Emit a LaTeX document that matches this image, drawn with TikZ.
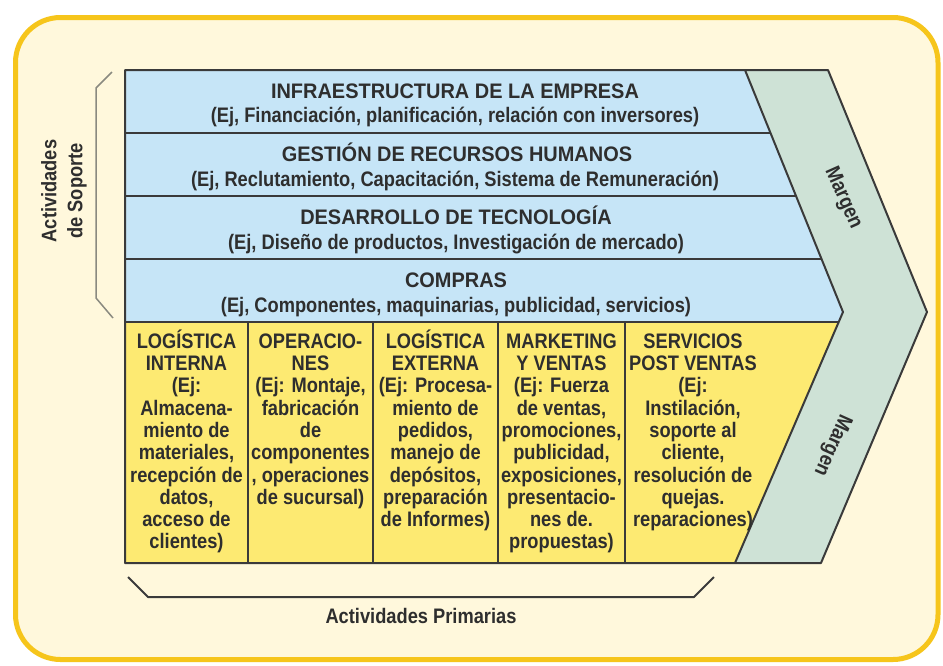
\documentclass[tikz,border=0pt]{standalone}
\usepackage{fontspec}
\setmainfont{Liberation Sans}[FakeStretch=0.87]
\newfontfamily\titlefam{Liberation Sans}[FakeStretch=0.95]
\definecolor{framec}{HTML}{F6C51B}
\definecolor{creamc}{HTML}{FFF8DC}
\definecolor{bluec}{HTML}{C6E5F7}
\definecolor{yelc}{HTML}{FDEA72}
\definecolor{greenc}{HTML}{CEE2D6}
\definecolor{linec}{HTML}{3A3A3A}
\definecolor{txtc}{HTML}{2E2E2E}
\definecolor{brkc}{HTML}{8A8A80}
\begin{document}
\begin{tikzpicture}[x=1pt,y=-1pt,
  ln/.style={draw=linec,line width=2pt,line join=round},
  brk/.style={draw=brkc,line width=1.5pt,line join=round},
  brkb/.style={draw=linec,line width=2pt,line join=round},
  rowtitle/.style={anchor=base,inner sep=0pt,text=txtc,font=\titlefam\bfseries\fontsize{21}{24}\selectfont},
  rowsub/.style={anchor=base,inner sep=0pt,text=txtc,font=\bfseries\fontsize{21}{24}\selectfont},
  coltext/.style={anchor=north,inner sep=0pt,align=center,text=txtc,font=\bfseries\fontsize{21}{22.3}\selectfont},
  lbl/.style={inner sep=0pt,align=center,text=txtc,font=\bfseries\fontsize{21}{26}\selectfont}]
\useasboundingbox (0,0) rectangle (943,665);
\fill[white] (0,0) rectangle (943,665);
\draw[draw=framec,line width=5pt,fill=creamc,rounded corners=45pt] (15.5,17.5) rectangle (938,659.5);
% key points
\coordinate (A) at (125,70);
\coordinate (B) at (745,70);
\coordinate (C) at (828,70);
\coordinate (P) at (843,312);
\coordinate (Q) at (927,312);
\coordinate (E) at (838.7,322);
\coordinate (D) at (735,563);
\coordinate (F) at (821,563);
\coordinate (G) at (125,563);
\coordinate (H) at (125,322);
% fills
\fill[bluec] (A) -- (B) -- (P) -- (E) -- (H) -- cycle;
\fill[yelc] (H) -- (E) -- (D) -- (G) -- cycle;
\fill[greenc] (B) -- (C) -- (Q) -- (F) -- (D) -- (P) -- cycle;
% row separators
\coordinate (r1l) at (125,133); \coordinate (r1r) at (770.5,133);
\coordinate (r2l) at (125,196); \coordinate (r2r) at (796,196);
\coordinate (r3l) at (125,259); \coordinate (r3r) at (821.5,259);
\draw[ln] (r1l) -- (r1r);
\draw[ln] (r2l) -- (r2r);
\draw[ln] (r3l) -- (r3r);
\draw[ln] (H) -- (E);
% column separators
\foreach \cx [count=\i] in {248,373,498,625}{
  \coordinate (c\i t) at (\cx,322);
  \coordinate (c\i b) at (\cx,563);
  \draw[ln] (c\i t) -- (c\i b);
}
% outlines
\draw[ln] (A) -- (C) -- (Q) -- (F) -- (D) -- (G) -- cycle;
\draw[ln] (B) -- (P) -- (D);
% brackets
\coordinate (sb1) at (112,72);
\coordinate (sb2) at (96,88);
\coordinate (sb3) at (96,298);
\coordinate (sb4) at (113,318);
\draw[brk] (sb1) -- (sb2) -- (sb3) -- (sb4);
\coordinate (pb1) at (128,577);
\coordinate (pb2) at (148,597);
\coordinate (pb3) at (694,597);
\coordinate (pb4) at (714,577);
\draw[brkb] (pb1) -- (pb2) -- (pb3) -- (pb4);
% support rows
\node[rowtitle] (t1) at (455,98) {INFRAESTRUCTURA DE LA EMPRESA};
\node[rowsub] (s1) at (455,122.5) {(Ej, Financiación, planificación, relación con inversores)};
\node[rowtitle] (t2) at (457,161.5) {GESTIÓN DE RECURSOS HUMANOS};
\node[rowsub] (s2) at (455,186) {(Ej, Reclutamiento, Capacitación, Sistema de Remuneración)};
\node[rowtitle] (t3) at (456,224.5) {DESARROLLO DE TECNOLOGÍA};
\node[rowsub] (s3) at (456,249) {(Ej, Diseño de productos, Investigación de mercado)};
\node[rowtitle] (t4) at (456,287.5) {COMPRAS};
\node[rowsub] (s4) at (456,312) {(Ej, Componentes, maquinarias, publicidad, servicios)};
% primary columns
\node[coltext] (p1) at (186.5,328) {\rule{0pt}{20pt}LOGÍSTICA\\INTERNA\\(Ej:\\Almacena-\\miento de\\materiales,\\recepción de\\datos,\\acceso de\\clientes)};
\node[coltext] (p2) at (310.5,328) {\rule{0pt}{20pt}OPERACIO-\\NES\\(Ej: Montaje,\\fabricación\\de\\componentes\\, operaciones\\de sucursal)};
\node[coltext] (p3) at (435.5,328) {\rule{0pt}{20pt}LOGÍSTICA\\EXTERNA\\(Ej: Procesa-\\miento de\\pedidos,\\manejo de\\depósitos,\\preparación\\de Informes)};
\node[coltext] (p4) at (561.5,328) {\rule{0pt}{20pt}MARKETING\\Y VENTAS\\(Ej: Fuerza\\de ventas,\\promociones,\\publicidad,\\exposiciones,\\presentacio-\\nes de.\\propuestas)};
\node[coltext] (p5) at (693,328) {\rule{0pt}{20pt}SERVICIOS\\POST VENTAS\\(Ej:\\Instilación,\\soporte al\\cliente,\\resolución de\\quejas.\\reparaciones)};
% margins
\node[lbl,rotate=-66] (m1) at (843,198) {Margen};
\node[lbl,rotate=-114] (m2) at (832,445) {Margen};
% side labels
\node[lbl,rotate=90] (sop) at (64,191) {Actividades\\de Soporte};
\node[lbl,anchor=base] (pri) at (421,623) {Actividades Primarias};
\end{tikzpicture}
\end{document}
